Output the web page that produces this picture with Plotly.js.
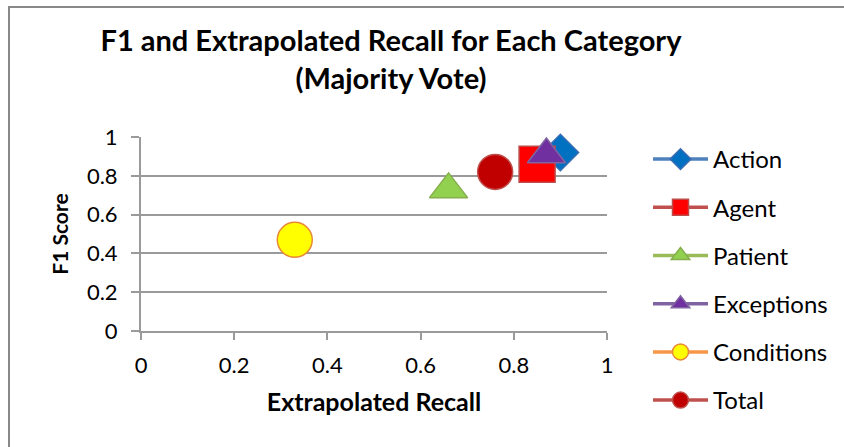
<!DOCTYPE html>
<html>
<head>
<meta charset="utf-8">
<script src="https://cdn.plot.ly/plotly-3.0.1.min.js"></script>
<style>
  html, body { margin: 0; padding: 0; background: #fff; overflow: hidden; }
  #chart { position: absolute; left: 0; top: 0; width: 844px; height: 447px; }
  #frame { position: absolute; left: 8px; top: 6px; width: 900px; height: 500px;
           border-left: 2px solid #888; border-top: 2px solid #888; pointer-events: none; }
</style>
</head>
<body>
<div id="chart"></div>
<div id="frame"></div>
<script>
// Per-category results (majority vote)
const categories = ['Action', 'Agent', 'Patient', 'Exceptions', 'Conditions', 'Total'];
const recall = [0.90, 0.85, 0.66, 0.87, 0.33, 0.76];
const f1 = [0.92, 0.86, 0.73, 0.91, 0.47, 0.82];

// Marker styling for each category
const symbols = ['diamond', 'square', 'triangle-up', 'triangle-up', 'circle', 'circle'];
const sizes = [28, 36, 33, 33, 35, 35];
const fillColors = ['#0070C0', '#FF0000', '#92D050', '#7030A0', '#FFFF00', '#C00000'];
const edgeColors = ['#3A6DB3', '#BE4B48', '#86AE4C', '#8064A2', '#E8883A', '#C0504D'];
const lineColors = ['#4F81BD', '#C0504D', '#9BBB59', '#8064A2', '#F79646', '#C0504D'];

const axisTicks = [0, 0.2, 0.4, 0.6, 0.8, 1];
const tickText = ['0', '0.2', '0.4', '0.6', '0.8', '1'];

const FONT = 'Lato, Carlito, Calibri, sans-serif';

const traces = categories.map((name, i) => ({
  type: 'scatter',
  mode: 'lines+markers',
  name: name,
  legendgroup: name,
  x: [recall[i]],
  y: [f1[i]],
  cliponaxis: false,
  line: { color: lineColors[i], width: 3.5 },
  marker: {
    symbol: symbols[i],
    size: sizes[i],
    color: fillColors[i],
    line: { color: edgeColors[i], width: 1.5 }
  },
  hoverinfo: 'skip'
}));

const gray = '#9A9A9A';

const layout = {
  width: 844,
  height: 447,
  margin: { l: 141, r: 237, t: 137, b: 116, autoexpand: false },
  paper_bgcolor: '#fff',
  plot_bgcolor: '#fff',
  font: { family: FONT, color: '#000', size: 22 },
  showlegend: true,
  title: {
    text: 'F1 and Extrapolated Recall for Each Category<br>(Majority Vote)',
    font: { family: FONT, size: 29, color: '#000', weight: 'bold' },
    x: 391 / 844,
    xanchor: 'center',
    xref: 'container',
    y: 0.885,
    yanchor: 'top',
    yref: 'container'
  },
  xaxis: {
    range: [0, 1],
    tickvals: axisTicks,
    ticktext: tickText,
    showgrid: false,
    zeroline: false,
    showline: true,
    linecolor: gray,
    linewidth: 2,
    ticks: 'outside',
    ticklen: 7,
    tickwidth: 2,
    tickcolor: gray,
    ticklabelstandoff: 7,
    tickfont: { family: FONT, size: 22, color: '#000' },
    title: {
      text: 'Extrapolated Recall',
      font: { family: FONT, size: 25, color: '#000', weight: 'bold' },
      standoff: 16
    },
    fixedrange: true
  },
  yaxis: {
    range: [0, 1],
    tickvals: axisTicks,
    ticktext: tickText,
    showgrid: true,
    gridcolor: gray,
    gridwidth: 2,
    zeroline: false,
    showline: true,
    linecolor: gray,
    linewidth: 2,
    ticks: 'outside',
    ticklen: 8,
    tickwidth: 2,
    tickcolor: gray,
    ticklabelstandoff: 9,
    tickfont: { family: FONT, size: 22, color: '#000' },
    title: {
      text: 'F1 Score',
      font: { family: FONT, size: 21, color: '#000', weight: 'bold' },
      standoff: 13
    },
    fixedrange: true
  },
  legend: {
    x: (648 - 141) / 466,
    xref: 'paper',
    xanchor: 'left',
    y: 1.0,
    yanchor: 'top',
    maxheight: 440,
    itemwidth: 55,
    tracegroupgap: 14,
    itemclick: false,
    itemdoubleclick: false,
    font: { family: FONT, size: 24, color: '#000' },
    bgcolor: 'rgba(0,0,0,0)'
  }
};

Plotly.newPlot('chart', traces, layout, { staticPlot: true, displayModeBar: false });
</script>
</body>
</html>
